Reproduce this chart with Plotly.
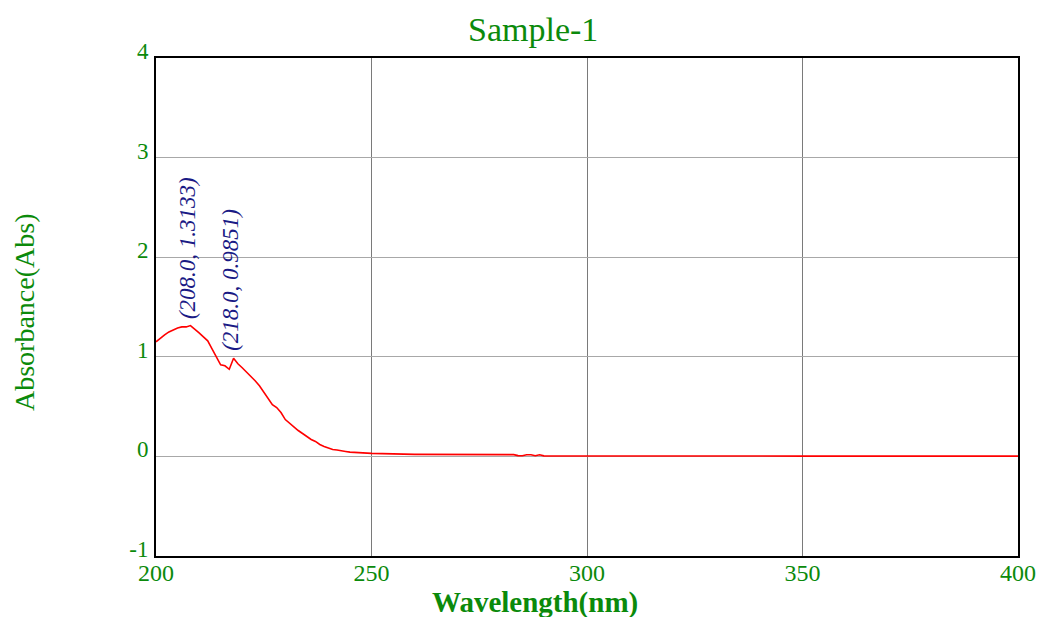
import plotly.graph_objects as go

wavelength = [200, 201, 202, 203, 204, 205, 206, 207, 208, 209, 210, 211, 212, 213, 214,
              215, 216, 217, 218, 219, 220, 221, 222, 223, 224, 225, 226, 227, 228, 229,
              230, 231, 232, 233, 234, 235, 236, 237, 238, 239, 240, 241, 242, 243, 244,
              245, 246, 247, 248, 249, 250, 260, 270, 283, 284, 285, 286, 287, 288, 289,
              290, 300, 350, 400]
absorbance = [1.15, 1.19, 1.22, 1.25, 1.27, 1.29, 1.30, 1.30, 1.3133, 1.28, 1.24, 1.20, 1.16, 1.08, 1.00,
              0.92, 0.91, 0.875, 0.9851, 0.93, 0.89, 0.85, 0.80, 0.76, 0.71, 0.65, 0.58, 0.52, 0.49, 0.44,
              0.37, 0.33, 0.29, 0.26, 0.23, 0.20, 0.17, 0.15, 0.12, 0.10, 0.085, 0.07, 0.065, 0.055, 0.05,
              0.043, 0.04, 0.038, 0.036, 0.035, 0.03, 0.02, 0.02, 0.018, 0.008, 0.007, 0.016, 0.016, 0.007, 0.016,
              0.005, 0.004, 0.003, 0.003]

peak_x = [208.0, 218.0]
peak_y = [1.3133, 0.9851]
peak_labels = ["(208.0, 1.3133)", "(218.0, 0.9851)"]

x_ticks = [200, 250, 300, 350, 400]
y_ticks = [-1, 0, 1, 2, 3, 4]

GREEN = "#0b8a0b"
SERIF = "Liberation Serif, Times New Roman, serif"

W, H = 1049, 617
L, R, T, B = 156, 31, 58, 61
pw, ph = W - L - R, H - T - B


def px_x(v):
    return (v - L) / pw


def px_y(v):
    return (H - B - v) / ph


fig = go.Figure()
fig.add_trace(go.Scatter(x=wavelength, y=absorbance, mode="lines",
                         line=dict(color="#ff0000", width=1.6), showlegend=False))

for px, py, lab in zip(peak_x, peak_y, peak_labels):
    fig.add_annotation(x=px, y=py, xref="x", yref="y", text=lab, showarrow=False,
                       textangle=-90, xanchor="center", yanchor="bottom", yshift=5, xshift=-3,
                       font=dict(family=SERIF, size=23, color="#1a1a85", style="italic"))

fig.add_annotation(x=px_x(533), y=px_y(30), xref="paper", yref="paper", text="Sample-1",
                   showarrow=False, xanchor="center", yanchor="middle",
                   font=dict(family=SERIF, size=34, color=GREEN))
fig.add_annotation(text="<b>Wavelength(nm)</b>", x=px_x(535), y=px_y(602), xref="paper", yref="paper",
                   showarrow=False, xanchor="center", yanchor="middle",
                   font=dict(family=SERIF, size=29, color=GREEN))
fig.add_annotation(text="Absorbance(Abs)", x=px_x(24), y=px_y(312), xref="paper", yref="paper",
                   showarrow=False, textangle=-90, xanchor="center", yanchor="middle",
                   font=dict(family=SERIF, size=28, color=GREEN))

fig.update_layout(
    width=W, height=H,
    margin=dict(l=L, r=R, t=T, b=B, autoexpand=False),
    paper_bgcolor="white", plot_bgcolor="white",
    font=dict(family=SERIF, color=GREEN),
    xaxis=dict(range=[200, 400], tickvals=x_ticks, ticktext=[str(v) for v in x_ticks],
               showgrid=True, gridcolor="#7a7a7a", gridwidth=1, zeroline=False,
               showline=True, linecolor="black", linewidth=2, mirror=True,
               ticks="", ticklabelstandoff=-6, automargin=False,
               tickfont=dict(family=SERIF, size=24, color=GREEN)),
    yaxis=dict(range=[-1, 4], tickvals=y_ticks, ticktext=[str(v) for v in y_ticks],
               showgrid=True, gridcolor="#a8a8a8", gridwidth=1, zeroline=False,
               showline=True, linecolor="black", linewidth=2, mirror=True,
               ticks="", ticklabelshift=-7, ticklabelstandoff=1, automargin=False,
               tickfont=dict(family=SERIF, size=23, color=GREEN)),
)

fig.write_html("out.html", config={"displayModeBar": False},
               post_script="document.body.style.margin='0';document.body.style.overflow='hidden';")
